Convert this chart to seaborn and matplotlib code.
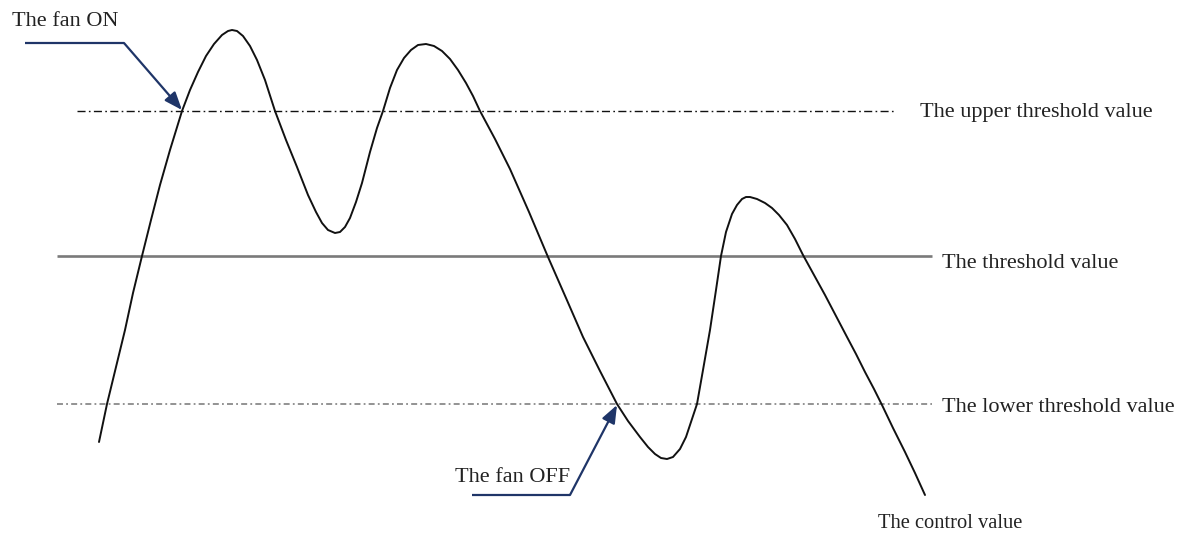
import matplotlib
matplotlib.use("Agg")
import matplotlib.pyplot as plt
import seaborn as sns
import pandas as pd

# Control value curve (pixel-like units, y downward)
curve_x = [99, 107, 116, 125, 133, 142, 151, 160, 170, 182, 190, 198, 206, 214, 222, 228,
           232, 237, 243, 250, 257, 265, 275, 286, 297, 308, 316, 322, 328, 335, 340,
           345, 350, 356, 362, 370, 377, 383, 390, 397, 404, 411, 418, 426, 434, 442,
           450, 458, 466, 473, 480, 495, 510, 529, 548, 566, 583, 600, 617, 628, 640,
           648, 655, 661, 667, 673, 680, 686, 690, 694, 697, 703, 710, 716, 721, 726,
           732, 737, 742, 746, 750, 757, 765, 772, 779, 787, 795, 803, 814, 825, 836, 847,
           856, 865, 874, 882, 893, 905, 915, 925]
curve_y = [442, 404, 367, 330, 293, 256, 220, 185, 150, 111, 90, 72, 56, 44, 35, 31,
           30, 31, 36, 46, 60, 80, 111, 140, 167, 195, 212, 223, 230, 233, 232,
           227, 218, 202, 183, 152, 128, 111, 88, 70, 58, 50, 45, 44, 46, 51,
           59, 70, 83, 96, 111, 139, 169, 212, 257, 298, 337, 371, 404, 421, 437,
           447, 454, 458, 459, 457, 449, 437, 425, 413, 404, 370, 330, 290, 256, 232,
           214, 205, 199, 197, 197, 199, 203, 208, 215, 225, 239, 255, 275, 295, 316, 337,
           354, 372, 389, 405, 428, 452, 473, 495]

# Horizontal reference levels
upper_level = 111
threshold_level = 256
lower_level = 404
upper_span = [77, 896]
threshold_span = [57, 932]
lower_span = [57, 932]

# Labels
label_upper = "The upper threshold value"
label_threshold = "The threshold value"
label_lower = "The lower threshold value"
label_control = "The control value"
label_on = "The fan ON"
label_off = "The fan OFF"

# Callout paths: [start, elbow, tip]
on_path_x = [25, 124, 182]
on_path_y = [43, 43, 110]
off_path_x = [472, 570, 617]
off_path_y = [495, 495, 405]

sns.set_theme(style="white")
plt.rcParams["font.family"] = ["Liberation Serif", "DejaVu Serif"]
plt.rcParams["lines.scale_dashes"] = False

fig = plt.figure(figsize=(11.86, 5.37), dpi=100)
ax = fig.add_axes([0, 0, 1, 1])

# Reference lines
ax.hlines(threshold_level, *threshold_span, color="#7a7a7a", lw=1.9, zorder=1)
ax.hlines(upper_level, *upper_span, color="#111111", lw=1.0,
          linestyles=[(0, (5.8, 2.4, 1.2, 2.4))], zorder=1)
ax.hlines(lower_level, *lower_span, color="#8a8a8a", lw=1.3,
          linestyles=[(0, (4.3, 2.3, 1.3, 2.3))], zorder=1)

# Curve
df = pd.DataFrame({"x": curve_x, "y": curve_y})
sns.lineplot(data=df, x="x", y="y", sort=False, estimator=None, color="#111111",
             lw=1.4, ax=ax, zorder=3)
ax.set_xlim(0, 1186)
ax.set_ylim(537, 0)
ax.axis("off")

# Callouts
arrow_col = "#1f3568"
for px, py in [(on_path_x, on_path_y), (off_path_x, off_path_y)]:
    ax.plot(px[:2], py[:2], color=arrow_col, lw=1.6, solid_capstyle="butt", zorder=4)
    ax.annotate("", xy=(px[2], py[2]), xytext=(px[1], py[1]),
                arrowprops=dict(arrowstyle="-|>,head_length=0.9,head_width=0.35",
                                color=arrow_col, lw=1.6, shrinkA=0, shrinkB=0),
                zorder=4)

fs = 16
ax.text(12, 22, label_on, fontsize=fs, va="center", ha="left", color="#222222")
ax.text(455, 478, label_off, fontsize=fs, va="center", ha="left", color="#222222")
ax.text(920, 112, label_upper, fontsize=fs, va="center", ha="left", color="#222222")
ax.text(942, 263, label_threshold, fontsize=fs, va="center", ha="left", color="#222222")
ax.text(942, 407, label_lower, fontsize=fs, va="center", ha="left", color="#222222")
ax.text(878, 524, label_control, fontsize=14.8, va="center", ha="left", color="#222222")

fig.savefig("out.png", dpi=100, facecolor="white")
